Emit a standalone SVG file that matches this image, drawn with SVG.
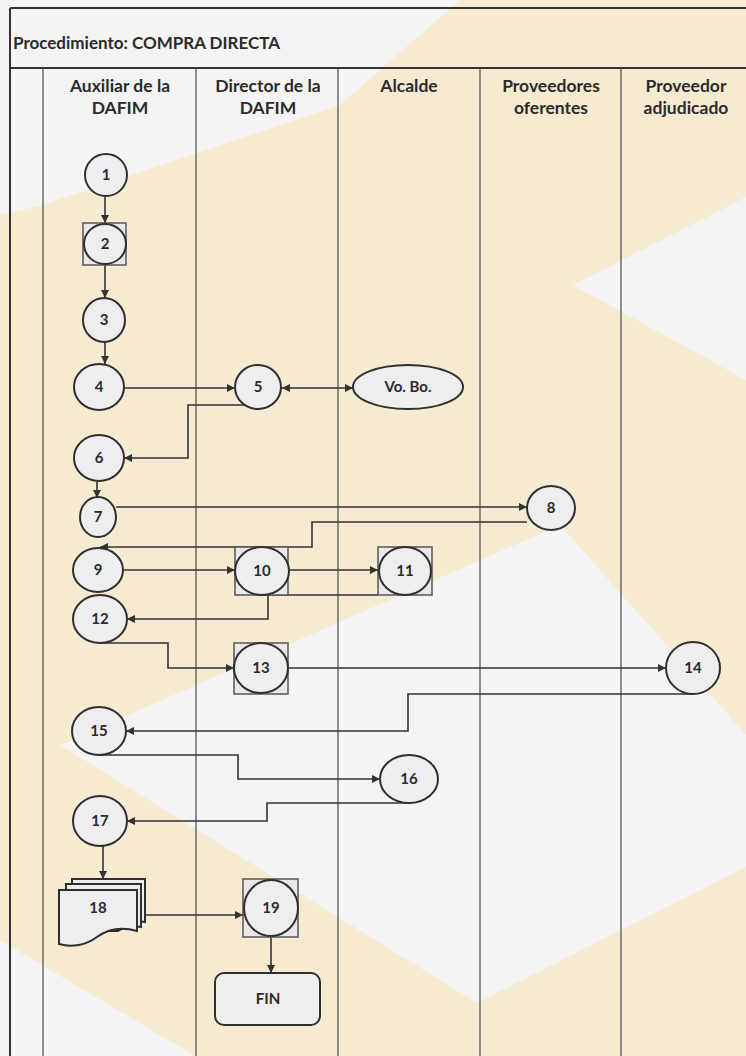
<svg xmlns="http://www.w3.org/2000/svg" width="746" height="1056" viewBox="0 0 746 1056">
<defs>
<style>
.bgc{fill:#f6ead0}
.bgw{fill:#f4f4f5}
.frame{stroke:#333;stroke-width:2;fill:none}
.lane{stroke:#4a4a4a;stroke-width:1.2;fill:none}
.t{font-family:Lato,"Liberation Sans",Arial,sans-serif;font-weight:bold;fill:#2b2b2b}
.hd{font-size:17.5px;text-anchor:middle}
.num{font-size:15px;text-anchor:middle}
.n{fill:#eeeef1;stroke:#2f2f2f;stroke-width:2}
.sq{fill:#e9e9ec;stroke:#555;stroke-width:1.5}
.c{fill:none;stroke:#333;stroke-width:1.6}
</style>
<marker id="ah" viewBox="0 0 10 10" refX="10" refY="5" markerWidth="9" markerHeight="8" markerUnits="userSpaceOnUse" orient="auto-start-reverse">
<path d="M0,0 L10,5 L0,10 Z" fill="#333"/>
</marker>
</defs>

<g id="background">
<rect x="0" y="0" width="746" height="1056" class="bgc"/>
<polygon class="bgw" points="0,0 460,0 340,105 43,205 0,215"/>
<polygon class="bgw" points="573,285 746,197 746,380"/>
<polygon class="bgw" points="60,745 560,525 746,735 746,867 477,1003"/>
<polygon class="bgw" points="0,940 195,1056 0,1056"/>
</g>

<g id="frame">
<line x1="10" y1="8" x2="746" y2="8" class="frame"/>
<line x1="10" y1="8" x2="10" y2="1056" class="frame"/>
<line x1="10" y1="68" x2="746" y2="68" class="frame"/>
<line x1="43" y1="68" x2="43" y2="1056" class="lane"/>
<line x1="196" y1="68" x2="196" y2="1056" class="lane"/>
<line x1="338" y1="68" x2="338" y2="1056" class="lane"/>
<line x1="480" y1="68" x2="480" y2="1056" class="lane"/>
<line x1="621" y1="68" x2="621" y2="1056" class="lane"/>
</g>

<g id="header">
<text x="13" y="49" class="t" font-size="17">Procedimiento:  COMPRA DIRECTA</text>
<text x="120" y="92" class="t hd">Auxiliar de la</text>
<text x="120" y="114" class="t hd">DAFIM</text>
<text x="268" y="92" class="t hd">Director de la</text>
<text x="268" y="114" class="t hd">DAFIM</text>
<text x="409" y="92" class="t hd">Alcalde</text>
<text x="551" y="92" class="t hd">Proveedores</text>
<text x="551" y="114" class="t hd">oferentes</text>
<text x="686" y="92" class="t hd">Proveedor</text>
<text x="686" y="114" class="t hd">adjudicado</text>
</g>

<g id="connectors">
<path class="c" marker-end="url(#ah)" d="M105,196 V223"/>
<path class="c" marker-end="url(#ah)" d="M105,265 V298"/>
<path class="c" marker-end="url(#ah)" d="M105,342 V364"/>
<path class="c" marker-end="url(#ah)" d="M124,388 H235"/>
<path class="c" marker-start="url(#ah)" marker-end="url(#ah)" d="M282,388 H353"/>
<path class="c" marker-end="url(#ah)" d="M250,405 H188 V458 H124"/>
<path class="c" marker-end="url(#ah)" d="M97,482 V498"/>
<path class="c" marker-end="url(#ah)" d="M116,507 H527"/>
<path class="c" marker-end="url(#ah)" d="M527,522 H312 V547 H100"/>
<path class="c" marker-end="url(#ah)" d="M124,570 H235"/>
<path class="c" marker-end="url(#ah)" d="M288,570 H378"/>
<path class="c" marker-end="url(#ah)" d="M378,595 H268 V619 H127"/>
<path class="c" marker-end="url(#ah)" d="M100,643 H168 V668 H234"/>
<path class="c" marker-end="url(#ah)" d="M288,668 H666"/>
<path class="c" marker-end="url(#ah)" d="M693,694 H408 V731 H126"/>
<path class="c" marker-end="url(#ah)" d="M99,755 H238 V779 H380"/>
<path class="c" marker-end="url(#ah)" d="M409,803 H267 V821 H127"/>
<path class="c" marker-end="url(#ah)" d="M103,846 V879"/>
<path class="c" marker-end="url(#ah)" d="M146,915 H243"/>
<path class="c" marker-end="url(#ah)" d="M271,937 V973"/>
</g>

<g id="node1"><ellipse class="n" cx="106" cy="175" rx="21" ry="21"/><text x="106" y="180" class="t num">1</text></g>
<g id="node2"><rect class="sq" x="83" y="223" width="43" height="42"/><ellipse class="n" cx="105" cy="244" rx="21" ry="20"/><text x="105" y="249" class="t num">2</text></g>
<g id="node3"><ellipse class="n" cx="104" cy="320" rx="21" ry="22"/><text x="104" y="325" class="t num">3</text></g>
<g id="node4"><ellipse class="n" cx="99" cy="387" rx="25" ry="23"/><text x="99" y="392" class="t num">4</text></g>
<g id="node5"><ellipse class="n" cx="258" cy="387" rx="23" ry="22"/><text x="258" y="392" class="t num">5</text></g>
<g id="node-vobo"><ellipse class="n" cx="408" cy="387" rx="55" ry="22"/><text x="408" y="392" class="t num">Vo. Bo.</text></g>
<g id="node6"><ellipse class="n" cx="99" cy="458" rx="25" ry="23"/><text x="99" y="463" class="t num">6</text></g>
<g id="node7"><ellipse class="n" cx="98" cy="517" rx="18" ry="20"/><text x="98" y="522" class="t num">7</text></g>
<g id="node8"><ellipse class="n" cx="551" cy="508" rx="24" ry="22"/><text x="551" y="513" class="t num">8</text></g>
<g id="node9"><ellipse class="n" cx="98" cy="570" rx="25" ry="22"/><text x="98" y="575" class="t num">9</text></g>
<g id="node10"><rect class="sq" x="235" y="547" width="53" height="48"/><ellipse class="n" cx="262" cy="571" rx="27" ry="24"/><text x="262" y="576" class="t num">10</text></g>
<g id="node11"><rect class="sq" x="378" y="547" width="54" height="48"/><ellipse class="n" cx="405" cy="571" rx="26" ry="24"/><text x="405" y="576" class="t num">11</text></g>
<g id="node12"><ellipse class="n" cx="100" cy="619" rx="27" ry="24"/><text x="100" y="624" class="t num">12</text></g>
<g id="node13"><rect class="sq" x="234" y="643" width="54" height="51"/><ellipse class="n" cx="261" cy="668" rx="27" ry="25"/><text x="261" y="673" class="t num">13</text></g>
<g id="node14"><ellipse class="n" cx="693" cy="668" rx="27" ry="26"/><text x="693" y="673" class="t num">14</text></g>
<g id="node15"><ellipse class="n" cx="99" cy="731" rx="27" ry="24"/><text x="99" y="736" class="t num">15</text></g>
<g id="node16"><ellipse class="n" cx="409" cy="779" rx="29" ry="24"/><text x="409" y="784" class="t num">16</text></g>
<g id="node17"><ellipse class="n" cx="100" cy="821" rx="27" ry="25"/><text x="100" y="826" class="t num">17</text></g>
<g id="node18">
<path class="n" stroke-width="1.8" d="M72,879 H145 V922 C135,920 128,922 122,926 L72,926 Z"/>
<path class="n" stroke-width="1.8" d="M66,884 H141 V927 C131,925 124,927 118,931 L66,931 Z"/>
<path class="n" stroke-width="1.8" d="M59,890 H137 V931 C120,926 108,929 97,937 C86,945 72,948 59,944 Z"/>
<text x="98" y="913" class="t num">18</text>
</g>
<g id="node19"><rect class="sq" x="243" y="879" width="55" height="58"/><ellipse class="n" cx="271" cy="908" rx="27" ry="28"/><text x="271" y="913" class="t num">19</text></g>
<g id="node-fin"><rect class="n" x="215" y="973" width="105" height="52" rx="9" ry="9"/><text x="268" y="1004" class="t num">FIN</text></g>
</svg>
